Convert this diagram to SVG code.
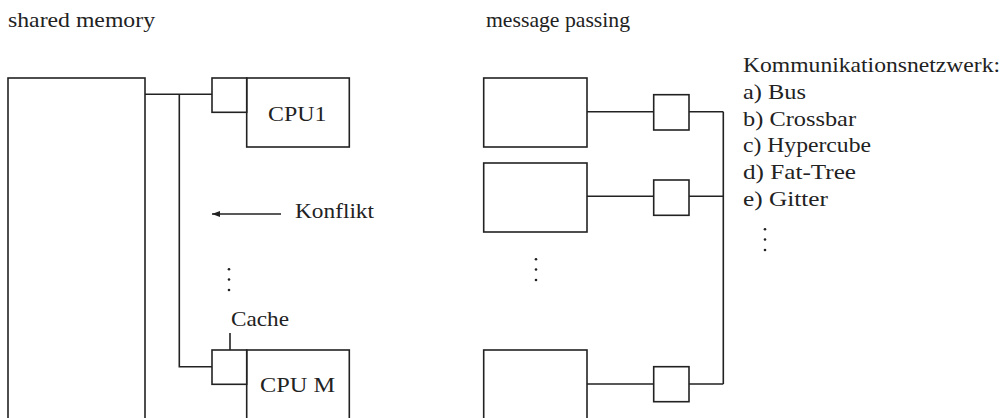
<svg xmlns="http://www.w3.org/2000/svg" width="1002" height="418" viewBox="0 0 1002 418">
  <style>
    .ln { fill: none; stroke: #222; stroke-width: 1.6; }
    .bx { fill: #fff; stroke: #222; stroke-width: 1.6; }
    .t { font-family: "Liberation Serif", "DejaVu Serif", serif; font-size: 22px; fill: #222; }
    .dot { fill: #222; }
  </style>
  <defs>
    <marker id="head" viewBox="0 0 8 6" refX="8" refY="3" markerWidth="8" markerHeight="6" markerUnits="userSpaceOnUse" orient="auto">
      <path d="M0,0 L8,3 L0,6 Z" fill="#222"/>
    </marker>
  </defs>

  <!-- section titles -->
  <text class="t" x="8" y="27" textLength="147" lengthAdjust="spacingAndGlyphs">shared memory</text>
  <text class="t" x="486" y="27" textLength="144" lengthAdjust="spacingAndGlyphs">message passing</text>

  <!-- shared memory: connectors -->
  <g id="shared-connectors">
    <path class="ln" d="M145,94.3 H212"/>
    <path class="ln" d="M179.3,94.3 V366.7 H212"/>
    <path class="ln" d="M230,333 V350"/>
    <path class="ln" d="M281,214 H212" marker-end="url(#head)"/>
  </g>

  <g id="memory">
    <rect class="bx" x="8" y="78" width="137" height="360"/>
  </g>
  <g id="cpu1">
    <rect class="bx" x="246.7" y="78" width="102.6" height="69"/>
    <text class="t" x="268" y="121" textLength="58.4" lengthAdjust="spacingAndGlyphs">CPU1</text>
  </g>
  <g id="cache1">
    <rect class="bx" x="212" y="78" width="34.7" height="34.3"/>
  </g>
  <g id="cpuM">
    <rect class="bx" x="246.7" y="350" width="102.6" height="90"/>
    <text class="t" x="260" y="392" textLength="75" lengthAdjust="spacingAndGlyphs">CPU M</text>
  </g>
  <g id="cacheM">
    <rect class="bx" x="212" y="350" width="34.7" height="34.3"/>
  </g>
  <g id="labels-shared">
    <text class="t" x="295" y="218" textLength="79" lengthAdjust="spacingAndGlyphs">Konflikt</text>
    <text class="t" x="231" y="326" textLength="58" lengthAdjust="spacingAndGlyphs">Cache</text>
    <circle class="dot" cx="229" cy="269.3" r="1.3"/>
    <circle class="dot" cx="229" cy="279.5" r="1.3"/>
    <circle class="dot" cx="229" cy="290" r="1.3"/>
  </g>

  <!-- message passing: connectors -->
  <g id="mp-connectors">
    <path class="ln" d="M587,111.7 H653.7 M689,111.7 H723.3"/>
    <path class="ln" d="M587,196.3 H653.7 M689,196.3 H723.3"/>
    <path class="ln" d="M587,384 H653.7 M689,384 H723.3"/>
    <path class="ln" d="M723.3,111.7 V384"/>
  </g>

  <g id="node1">
    <rect class="bx" x="483.7" y="78" width="103.3" height="69"/>
  </g>
  <g id="iface1">
    <rect class="bx" x="653.7" y="94.7" width="35.3" height="35.3"/>
  </g>
  <g id="node2">
    <rect class="bx" x="483.7" y="163" width="103.3" height="69"/>
  </g>
  <g id="iface2">
    <rect class="bx" x="653.7" y="180" width="35.3" height="35.3"/>
  </g>
  <g id="nodeN">
    <rect class="bx" x="483.7" y="350" width="103.3" height="90"/>
  </g>
  <g id="ifaceN">
    <rect class="bx" x="653.7" y="366.7" width="35.3" height="35"/>
  </g>
  <g id="dots-mp">
    <circle class="dot" cx="536" cy="259.3" r="1.3"/>
    <circle class="dot" cx="536" cy="269.5" r="1.3"/>
    <circle class="dot" cx="536" cy="280" r="1.3"/>
  </g>

  <!-- network types -->
  <g id="network-list">
    <text class="t" x="743" y="72" textLength="257" lengthAdjust="spacingAndGlyphs">Kommunikationsnetzwerk:</text>
    <text class="t" x="743" y="98.8" textLength="63" lengthAdjust="spacingAndGlyphs">a) Bus</text>
    <text class="t" x="743" y="125.6" textLength="113" lengthAdjust="spacingAndGlyphs">b) Crossbar</text>
    <text class="t" x="743" y="152.4" textLength="128" lengthAdjust="spacingAndGlyphs">c) Hypercube</text>
    <text class="t" x="743" y="179.2" textLength="113" lengthAdjust="spacingAndGlyphs">d) Fat-Tree</text>
    <text class="t" x="743" y="206" textLength="85" lengthAdjust="spacingAndGlyphs">e) Gitter</text>
    <circle class="dot" cx="765" cy="229.3" r="1.3"/>
    <circle class="dot" cx="765" cy="239.5" r="1.3"/>
    <circle class="dot" cx="765" cy="250" r="1.3"/>
  </g>
</svg>
